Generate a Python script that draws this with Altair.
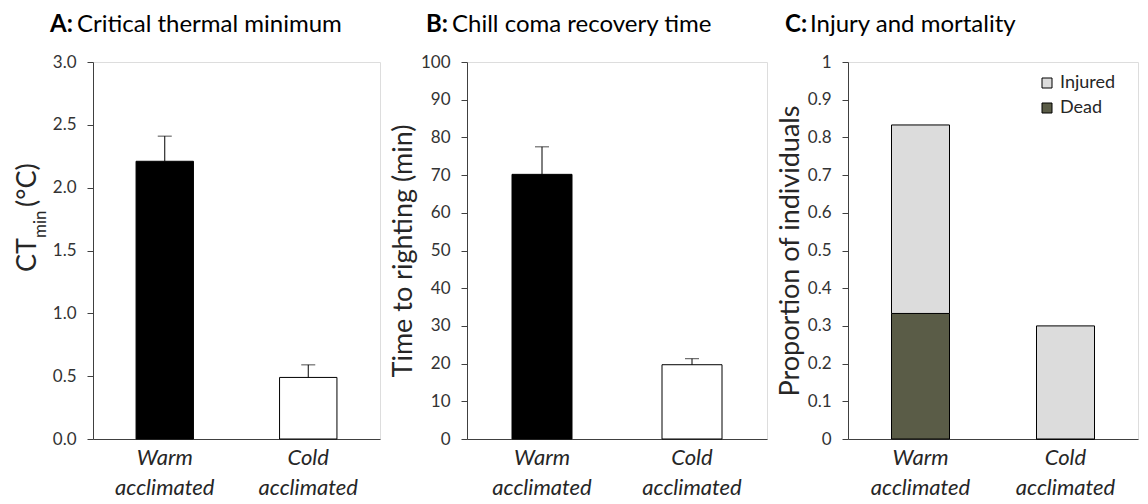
import altair as alt
import pandas as pd

# ---------------- data ----------------
groups = ["Warm acclimated", "Cold acclimated"]
bar_fill = ["#000000", "#ffffff"]

ctmin_mean = [2.21, 0.49]
ctmin_upper = [2.41, 0.59]

ccrt_mean = [70.2, 19.7]
ccrt_upper = [77.5, 21.3]

dead = [0.333, 0.0]
injured = [0.5, 0.3]
outcome_names = ["Injured", "Dead"]
outcome_colors = ["#dcdcdc", "#5a5c47"]
outcome_stack = [1, 0]

ctmin_ticks = [0.0, 0.5, 1.0, 1.5, 2.0, 2.5, 3.0]
ccrt_ticks = [0, 10, 20, 30, 40, 50, 60, 70, 80, 90, 100]
prop_ticks = [0, 0.1, 0.2, 0.3, 0.4, 0.5, 0.6, 0.7, 0.8, 0.9, 1]

panel_letters = ["A:", "B:", "C:"]
panel_titles = ["Critical thermal minimum", "Chill coma recovery time", "Injury and mortality"]
ylab_a = ["CT", "min", "(°C)"]
ylab_b = "Time to righting (min)"
ylab_c = "Proportion of individuals"

FONT = "Lato"
H = 377
AX = "#404040"
TXT = "#333333"

# ---------------- helpers ----------------
def xenc():
    return alt.X(
        "group:N", sort=groups,
        scale=alt.Scale(paddingInner=0.6, paddingOuter=0.3),
        axis=alt.Axis(title=None, labelAngle=0, labelExpr="split(datum.label, ' ')",
                      labelFontStyle="italic", labelFontSize=22, labelLineHeight=30,
                      labelPadding=8, ticks=False, domainColor=AX, labelColor="#262626"),
    )

def yaxis(values, fmt, title=None):
    kw = dict(values=values, tickCount=len(values), format=fmt, grid=False, tickSize=6,
              tickColor=AX, domainColor=AX, labelPadding=11, labelFontSize=17,
              labelColor=TXT, labelOverlap=False)
    if title is not None:
        kw.update(title=title, titleFontSize=27, titleFontWeight="normal",
                  titleColor="#262626", titlePadding=3)
    else:
        kw.update(title=None)
    return alt.Axis(**kw)

def panel_title(letter, text, x_letter, x_text):
    a = alt.Chart(pd.DataFrame({"t": [letter]})).mark_text(
        font=FONT, fontSize=24, fontWeight="bold", align="left", baseline="alphabetic", color="black"
    ).encode(text="t:N", x=alt.value(x_letter), y=alt.value(-30))
    b = alt.Chart(pd.DataFrame({"t": [text]})).mark_text(
        font=FONT, fontSize=24, align="left", baseline="alphabetic", color="black"
    ).encode(text="t:N", x=alt.value(x_text), y=alt.value(-30))
    return a + b

def mean_err_panel(mean, upper, ticks, fmt, domain, title=None):
    df = pd.DataFrame({"group": groups, "mean": mean, "upper": upper})
    base = alt.Chart(df)
    ysc = alt.Scale(domain=domain, nice=False)
    ax = yaxis(ticks, fmt, title)
    bars = base.mark_bar(stroke="black", strokeWidth=1).encode(
        x=xenc(),
        y=alt.Y("mean:Q", scale=ysc, axis=ax),
        fill=alt.Fill("group:N", scale=alt.Scale(domain=groups, range=bar_fill), legend=None),
    )
    rule = base.mark_rule(color="black", strokeWidth=1).encode(
        x=alt.X("group:N", sort=groups),
        y=alt.Y("mean:Q", scale=ysc, axis=ax), y2="upper:Q")
    cap = base.mark_tick(color="black", size=14, thickness=1).encode(
        x=alt.X("group:N", sort=groups),
        y=alt.Y("upper:Q", scale=ysc, axis=ax))
    return bars + rule + cap

# ---------------- panel A ----------------
pa = mean_err_panel(ctmin_mean, ctmin_upper, ctmin_ticks, ".1f", [0, 3])
ya_ct = alt.Chart(pd.DataFrame({"t": [ylab_a[0]]})).mark_text(
    font=FONT, fontSize=27, angle=270, align="left", baseline="alphabetic", color="#262626"
).encode(text="t:N", x=alt.value(-57), y=alt.value(210))
ya_min = alt.Chart(pd.DataFrame({"t": [ylab_a[1]]})).mark_text(
    font=FONT, fontSize=17, angle=270, align="left", baseline="alphabetic", color="#262626"
).encode(text="t:N", x=alt.value(-47), y=alt.value(176))
ya_c = alt.Chart(pd.DataFrame({"t": [ylab_a[2]]})).mark_text(
    font=FONT, fontSize=27, angle=270, align="left", baseline="alphabetic", color="#262626"
).encode(text="t:N", x=alt.value(-57), y=alt.value(145))
chart_a = alt.layer(pa, ya_ct, ya_min, ya_c,
                    panel_title(panel_letters[0], panel_titles[0], -43, -16)).properties(width=287, height=H)

# ---------------- panel B ----------------
pb = mean_err_panel(ccrt_mean, ccrt_upper, ccrt_ticks, "d", [0, 100], ylab_b)
chart_b = alt.layer(pb, panel_title(panel_letters[1], panel_titles[1], -41, -15)).properties(width=300, height=H)

# ---------------- panel C ----------------
dfc = pd.DataFrame({
    "group": groups * 2,
    "outcome": [outcome_names[1]] * 2 + [outcome_names[0]] * 2,
    "value": dead + injured,
    "ord": [outcome_stack[1]] * 2 + [outcome_stack[0]] * 2,
})
pc = alt.Chart(dfc).mark_bar(stroke="black", strokeWidth=1).encode(
    x=xenc(),
    y=alt.Y("value:Q", stack="zero", scale=alt.Scale(domain=[0, 1], nice=False),
            axis=yaxis(prop_ticks, "~g", ylab_c)),
    fill=alt.Fill("outcome:N", scale=alt.Scale(domain=outcome_names, range=outcome_colors),
                  legend=alt.Legend(title=None, orient="none", legendX=190, legendY=12,
                                    symbolType="square", symbolSize=100,
                                    symbolStrokeColor="black", symbolStrokeWidth=1,
                                    symbolOpacity=1,
                                    labelFontSize=18, labelColor="#262626", rowPadding=7,
                                    labelFont=FONT)),
    order=alt.Order("ord:Q"),
)
chart_c = alt.layer(pc, panel_title(panel_letters[2], panel_titles[2], -63, -38)).properties(width=290, height=H)

chart = alt.hconcat(chart_a, chart_b, chart_c, spacing=7).resolve_scale(
    fill="independent"
).resolve_legend(fill="independent").properties(
    padding={"left": 5, "top": 4, "right": 0, "bottom": 0}
).configure_view(stroke=None).configure(font=FONT).configure_axis(
    labelFont=FONT, titleFont=FONT
)

chart.save("out.html", embed_options={"renderer": "svg", "actions": False})
